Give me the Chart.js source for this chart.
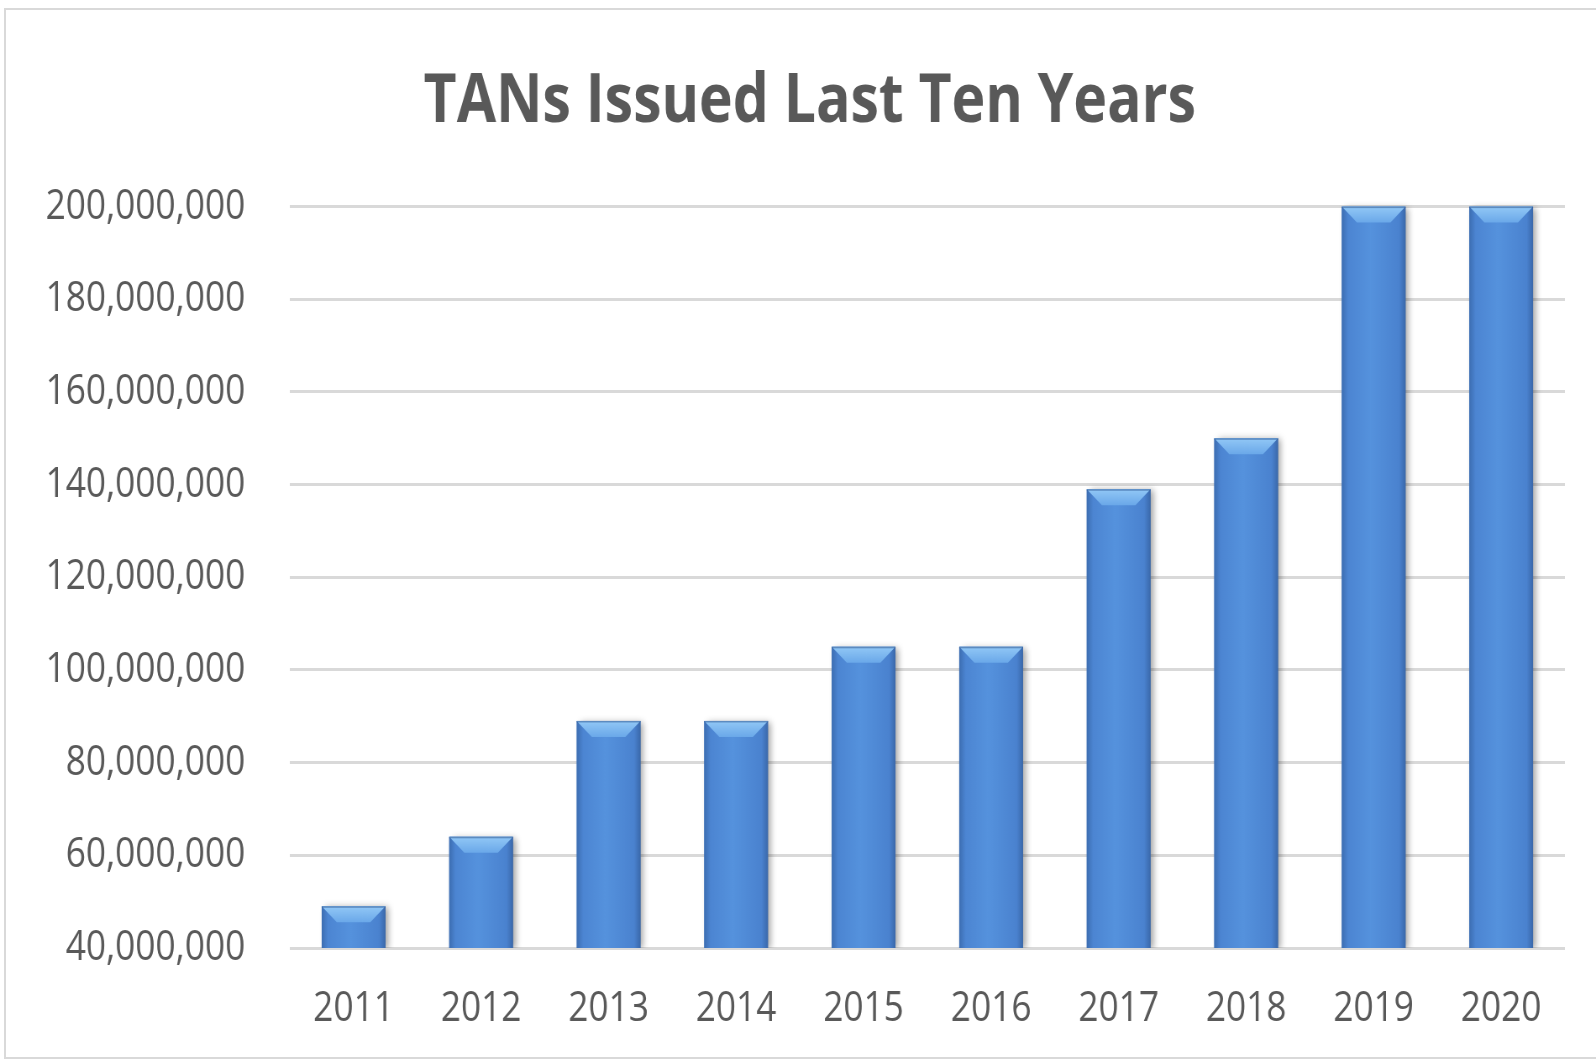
<!DOCTYPE html>
<html>
<head>
<meta charset="utf-8">
<script src="https://cdn.jsdelivr.net/npm/chart.js@4.4.1/dist/chart.umd.min.js"></script>
<style>
  html,body{margin:0;padding:0;background:#fff;overflow:hidden;width:1596px;height:1061px;}
  #frame{position:absolute;left:4px;top:8px;width:1620px;height:1051px;border:2px solid #d9d9d9;box-sizing:border-box;pointer-events:none;}
  #chart{position:absolute;left:0;top:0;width:1900px;height:1061px;transform:scaleX(0.84);transform-origin:0 0;}
</style>
</head>
<body>
<canvas id="chart" width="1900" height="1061"></canvas>
<div id="frame"></div>
<script>
const years = ['2011','2012','2013','2014','2015','2016','2017','2018','2019','2020'];
const tansIssued = [49000000, 64000000, 89000000, 89000000, 105000000, 105000000, 139000000, 150000000, 200000000, 200000000];
const yMin = 40000000, yMax = 200000000, yStep = 20000000;

const textGrey = '#595959';

/* title sits a bit right of the canvas centre */
const titleShift = {
  id:'titleShift',
  afterLayout(chart){
    if(chart.titleBlock)chart.titleBlock.left += 65;
  }
};

/* bevelled look of the bars, on top of what Chart.js drew */
const bevel = {
  id:'bevel',
  afterDatasetsDraw(chart){
    const ctx = chart.ctx, area = chart.chartArea;
    chart.getDatasetMeta(0).data.forEach(bar=>{
      const l = bar.x - bar.width/2, r = bar.x + bar.width/2;
      const t = bar.y, b = Math.min(bar.base, area.bottom), w = bar.width;
      ctx.save();
      ctx.beginPath();
      ctx.rect(area.left, 0, area.right-area.left+20, area.bottom);
      ctx.clip();
      ctx.shadowColor = 'rgba(0,0,0,0.35)';
      ctx.shadowBlur = 7;
      ctx.shadowOffsetX = 4;
      ctx.shadowOffsetY = 1;
      const g = ctx.createLinearGradient(l,0,r,0);
      g.addColorStop(0,'#3c6db1');
      g.addColorStop(0.1,'#4c85d2');
      g.addColorStop(0.45,'#5592dd');
      g.addColorStop(0.9,'#4a82cf');
      g.addColorStop(1,'#3a68aa');
      ctx.fillStyle = g;
      ctx.fillRect(l,t,w,b-t);
      ctx.restore();

      const bh = Math.min(16,(b-t)/2), bw = 18;
      ctx.save();
      const tg = ctx.createLinearGradient(0,t,0,t+bh);
      tg.addColorStop(0,'#92c8f6');
      tg.addColorStop(1,'#6aa8e9');
      ctx.fillStyle = tg;
      ctx.beginPath();
      ctx.moveTo(l,t);
      ctx.lineTo(r,t);
      ctx.lineTo(r-bw,t+bh);
      ctx.lineTo(l+bw,t+bh);
      ctx.closePath();
      ctx.fill();
      ctx.fillStyle = 'rgba(40,80,140,0.5)';
      ctx.fillRect(l,t,w,1.5);
      ctx.restore();
    });
  }
};

new Chart(document.getElementById('chart'),{
  type:'bar',
  data:{
    labels:years,
    datasets:[{
      data:tansIssued,
      backgroundColor:'#4f89d6',
      borderWidth:0,
      barPercentage:0.5,
      categoryPercentage:1
    }]
  },
  options:{
    responsive:false,
    animation:false,
    devicePixelRatio:1,
    layout:{padding:{left:0,right:37,top:62,bottom:0}},
    plugins:{
      legend:{display:false},
      tooltip:{enabled:false},
      title:{
        display:true,
        text:'TANs Issued Last Ten Years',
        color:textGrey,
        font:{family:'"Open Sans"',size:68,weight:'bold',lineHeight:1.2},
        padding:{top:0,bottom:63}
      }
    },
    scales:{
      x:{
        grid:{display:false,drawTicks:false},
        border:{display:false},
        ticks:{color:textGrey,font:{family:'"Open Sans"',size:42},padding:36,maxRotation:0},
        afterFit(s){s.height=113;}
      },
      y:{
        min:yMin,max:yMax,
        grid:{color:'#d9d9d9',lineWidth:3,drawTicks:false},
        border:{display:false},
        ticks:{
          stepSize:yStep,
          color:textGrey,
          font:{family:'"Open Sans"',size:42},
          padding:53,
          callback:v=>v.toLocaleString('en-US')
        },
        afterFit(s){s.width=345;}
      }
    }
  },
  plugins:[titleShift,bevel]
});
</script>
</body>
</html>
